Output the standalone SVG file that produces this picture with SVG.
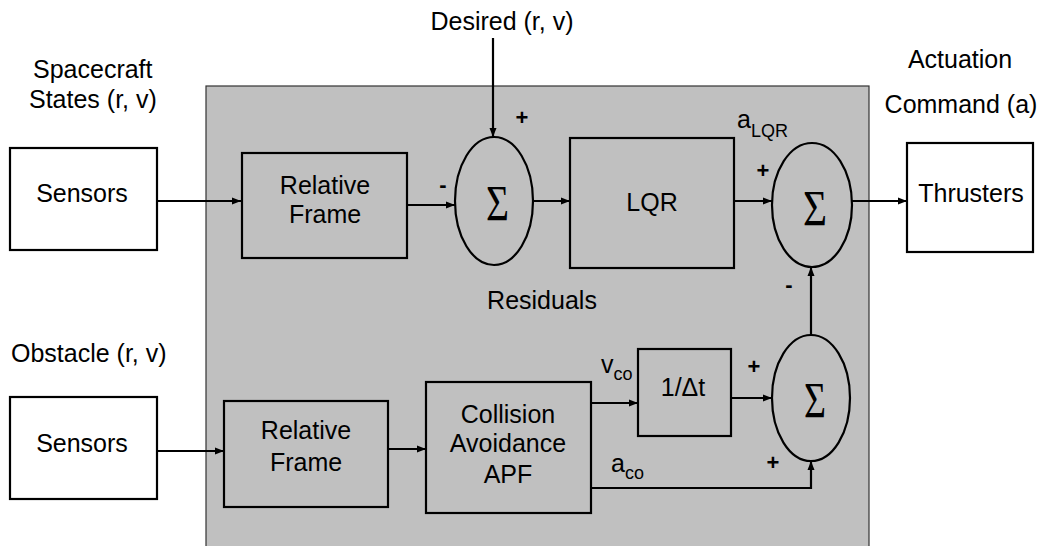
<svg xmlns="http://www.w3.org/2000/svg" width="1041" height="546" viewBox="0 0 1041 546">
<style>
text{font-family:"Liberation Sans",Arial,sans-serif;fill:#000}
.t{font-size:25px;text-anchor:middle}
.l{font-size:25px}
.sub{font-size:18px}
.sg{font-family:"Liberation Serif","Times New Roman",serif;font-size:51px}
.pm{font-size:22px;font-weight:bold;text-anchor:middle}
.box{stroke:#000;stroke-width:2.2}
.w{fill:#fff}
.g{fill:#c0c0c0}
.c{fill:none;stroke:#000;stroke-width:2.2}
</style>
<defs>
<marker id="ah" markerUnits="userSpaceOnUse" markerWidth="10" markerHeight="8" refX="9" refY="4" orient="auto">
<path d="M0,0.5 L9,4 L0,7.5 z" fill="#000"/>
</marker>
</defs>
<rect id="panel" x="206" y="86" width="663" height="470" fill="#c0c0c0" stroke="#333" stroke-width="1.2"/>
<g id="labels">
<text class="l" x="33" y="78">Spacecraft</text>
<text class="l" x="29" y="108">States (r, v)</text>
<text class="t" x="502" y="30">Desired (r, v)</text>
<text class="t" x="960" y="68">Actuation</text>
<text class="t" x="961" y="113">Command (a)</text>
<text class="l" x="11" y="362">Obstacle (r, v)</text>
<text class="t" x="542" y="309">Residuals</text>
<text x="737" y="128" class="l">a<tspan class="sub" dy="9">LQR</tspan></text>
<text x="601" y="373" class="l">v<tspan class="sub" dy="7">co</tspan></text>
<text x="611" y="472" class="l">a<tspan class="sub" dy="7">co</tspan></text>
<text class="pm" x="522" y="125">+</text>
<text class="pm" x="443" y="192">-</text>
<text class="pm" x="763" y="178">+</text>
<text class="pm" x="789" y="292">-</text>
<text class="pm" x="754" y="374">+</text>
<text class="pm" x="773" y="470">+</text>
</g>
<g id="sensors1"><rect class="box w" x="10" y="148" width="147" height="102"/><text class="t" x="82" y="202">Sensors</text></g>
<g id="relframe1"><rect class="box g" x="242" y="153" width="165" height="105"/><text class="t" x="325" y="194">Relative</text><text class="t" x="325" y="223">Frame</text></g>
<g id="sum1"><ellipse class="box g" cx="494" cy="201" rx="39" ry="64"/><text class="sg" x="486" y="220" textLength="23" lengthAdjust="spacingAndGlyphs">Σ</text></g>
<g id="lqr"><rect class="box g" x="570" y="138" width="164" height="130"/><text class="t" x="652" y="211">LQR</text></g>
<g id="sum2"><ellipse class="box g" cx="812" cy="205" rx="40" ry="62"/><text class="sg" x="803" y="225" textLength="24" lengthAdjust="spacingAndGlyphs">Σ</text></g>
<g id="thrusters"><rect class="box w" x="907" y="143" width="126" height="109"/><text class="t" x="971" y="202">Thrusters</text></g>
<g id="sensors2"><rect class="box w" x="10" y="397" width="147" height="102"/><text class="t" x="82" y="452">Sensors</text></g>
<g id="relframe2"><rect class="box g" x="224" y="401" width="164" height="106"/><text class="t" x="306" y="439">Relative</text><text class="t" x="306" y="471">Frame</text></g>
<g id="collision"><rect class="box g" x="426" y="382" width="165" height="131"/><text class="t" x="508" y="423">Collision</text><text class="t" x="508" y="452">Avoidance</text><text class="t" x="508" y="483">APF</text></g>
<g id="invdt"><rect class="box g" x="638" y="349" width="93" height="87"/><text class="t" x="683" y="396">1/Δt</text></g>
<g id="sum3"><ellipse class="box g" cx="811" cy="398" rx="39" ry="63"/><text class="sg" x="804" y="417" textLength="22" lengthAdjust="spacingAndGlyphs">Σ</text></g>
<g id="connectors">
<path class="c" d="M157,201 H241" marker-end="url(#ah)"/>
<path class="c" d="M407,205 H455" marker-end="url(#ah)"/>
<path class="c" d="M493,38 V137" marker-end="url(#ah)"/>
<path class="c" d="M533,201 H570" marker-end="url(#ah)"/>
<path class="c" d="M734,201 H772" marker-end="url(#ah)"/>
<path class="c" d="M852,201 H907" marker-end="url(#ah)"/>
<path class="c" d="M157,451 H224" marker-end="url(#ah)"/>
<path class="c" d="M388,449 H426" marker-end="url(#ah)"/>
<path class="c" d="M591,403 H638" marker-end="url(#ah)"/>
<path class="c" d="M731,398 H772" marker-end="url(#ah)"/>
<path class="c" d="M591,488 H811 V461" marker-end="url(#ah)"/>
<path class="c" d="M811,335 V267" marker-end="url(#ah)"/>
</g>
</svg>
